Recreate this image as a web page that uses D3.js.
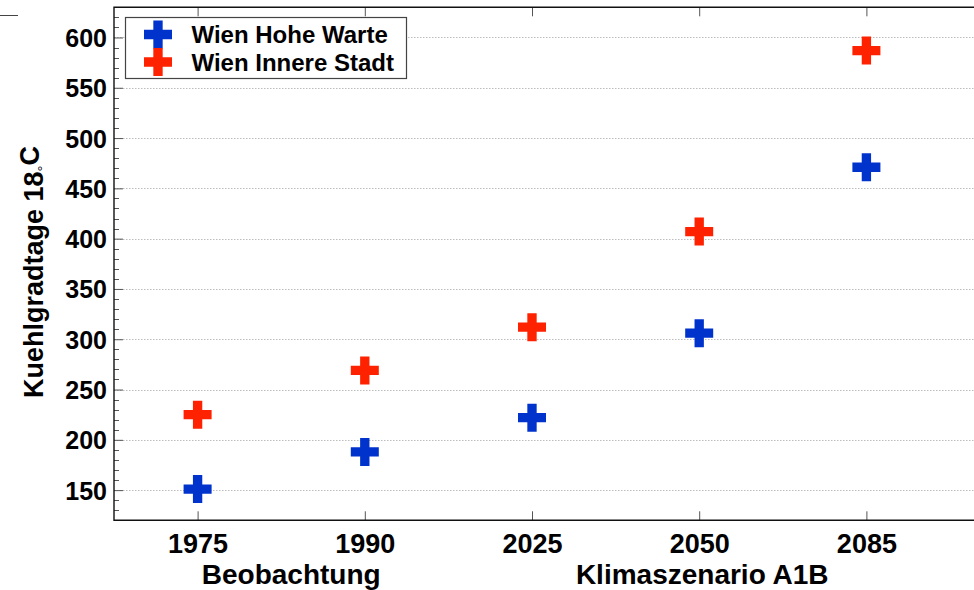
<!DOCTYPE html>
<html>
<head>
<meta charset="utf-8">
<script src="https://cdn.jsdelivr.net/npm/d3@7"></script>
<style>
  html, body { margin: 0; padding: 0; background: #fff; }
  svg { display: block; }
  text { font-family: "Liberation Sans", Arial, Helvetica, sans-serif; font-weight: bold; fill: #000; }
</style>
</head>
<body>
<svg id="chart" width="974" height="590"></svg>
<script>
// ---- data ----
const categories = ["1975", "1990", "2025", "2050", "2085"];
const seriesNames = ["Wien Hohe Warte", "Wien Innere Stadt"];
const hoheWarte = [151, 188, 222, 306, 471];
const innereStadt = [225, 269, 312, 407, 587];
const yTicks = [150, 200, 250, 300, 350, 400, 450, 500, 550, 600];
const groupLabels = ["Beobachtung", "Klimaszenario A1B"];
const groupMembers = [["1975", "1990"], ["2025", "2050", "2085"]];
const yLabel = "Kuehlgradtage 18";
const colors = ["#0033cc", "#ff2200"];

// ---- layout ----
const plotLeft = 114, plotTop = 7.3, plotBottom = 520.3;
const step = 167.2;
const svg = d3.select("#chart");

const idx = d3.scaleOrdinal().domain(categories).range(d3.range(1, categories.length + 1));
const x = d3.scaleLinear().domain([0.5, 6]).range([plotLeft, plotLeft + 5.5 * step]);
const y = d3.scaleLinear().domain([120, 630]).range([plotBottom, plotTop]);
const plotRight = x(6);

// artifact line top-left
svg.append("line").attr("x1", 0).attr("x2", 18).attr("y1", 15.5).attr("y2", 15.5)
  .attr("stroke", "#444").attr("stroke-width", 1);

// grid lines
svg.append("g").selectAll("line").data(yTicks).join("line")
  .attr("x1", plotLeft).attr("x2", plotRight)
  .attr("y1", d => Math.round(y(d)) + 0.5).attr("y2", d => Math.round(y(d)) + 0.5)
  .attr("stroke", "#bdbdbd").attr("stroke-width", 1).attr("stroke-dasharray", "1.5,1.5");

// minor y ticks
const minor = d3.range(130, 631, 10).filter(v => v % 50 !== 0);
svg.append("g").selectAll("line").data(minor).join("line")
  .attr("x1", plotLeft).attr("x2", plotLeft + 5)
  .attr("y1", d => Math.round(y(d)) + 0.5).attr("y2", d => Math.round(y(d)) + 0.5)
  .attr("stroke", "#555").attr("stroke-width", 1);

// y axis
const yAxis = svg.append("g").attr("transform", `translate(${plotLeft},0)`)
  .call(d3.axisRight(y).tickValues(yTicks).tickSize(9).tickFormat(d3.format("d")));
yAxis.select(".domain").remove();
yAxis.selectAll(".tick line").attr("stroke", "#555").attr("stroke-width", 1);
yAxis.selectAll(".tick text")
  .attr("x", -7).attr("text-anchor", "end").attr("dy", "0.36em")
  .style("font-size", "25px").style("font-weight", "bold")
  .style("font-family", "'Liberation Sans', Arial, sans-serif").attr("fill", "#000");

// x axis bottom
const xAxis = svg.append("g").attr("transform", `translate(0,${plotBottom})`)
  .call(d3.axisTop(x).tickValues(categories.map(c => idx(c))).tickSize(9)
    .tickFormat((d, i) => categories[i]));
xAxis.select(".domain").remove();
xAxis.selectAll(".tick line").attr("stroke", "#555").attr("stroke-width", 1);
xAxis.selectAll(".tick text")
  .attr("y", 33).attr("dy", 0)
  .style("font-size", "27px").style("font-weight", "bold")
  .style("font-family", "'Liberation Sans', Arial, sans-serif").attr("fill", "#000");

// x ticks top
const xTop = svg.append("g").attr("transform", `translate(0,${plotTop})`)
  .call(d3.axisBottom(x).tickValues(categories.map(c => idx(c))).tickSize(9).tickFormat(""));
xTop.select(".domain").remove();
xTop.selectAll(".tick line").attr("stroke", "#555").attr("stroke-width", 1);

// frame
svg.append("path")
  .attr("d", `M${plotRight},${plotTop}H${plotLeft}V${plotBottom}H${plotRight}`)
  .attr("fill", "none").attr("stroke", "#111").attr("stroke-width", 1.4);

// group labels
const groupOffsets = [10, 3];
svg.append("g").selectAll("text").data(groupLabels).join("text")
  .attr("x", (d, i) => x(d3.mean(groupMembers[i], c => idx(c))) + groupOffsets[i])
  .attr("y", 584)
  .attr("text-anchor", "middle")
  .style("font-size", "28px")
  .text(d => d);

// y label
const yl = svg.append("text")
  .attr("transform", `translate(43,272) rotate(-90)`)
  .attr("text-anchor", "middle")
  .style("font-size", "27px");
yl.append("tspan").text(yLabel);
yl.append("tspan").attr("dy", "0.3em").style("font-size", "15px").style("font-weight", "normal").text("\u00B0");
yl.append("tspan").attr("dy", "-0.3em").text("C");

// markers
const cross = d3.symbol().type(d3.symbolCross).size(436);
const series = [hoheWarte, innereStadt];
series.forEach((vals, s) => {
  svg.append("g").selectAll("path").data(vals).join("path")
    .attr("d", cross)
    .attr("transform", (d, i) => `translate(${x(idx(categories[i]))},${y(d)})`)
    .attr("fill", colors[s]);
});

// legend
const lg = svg.append("g");
lg.append("rect").attr("x", 125.5).attr("y", 17.5).attr("width", 281).attr("height", 61)
  .attr("fill", "#fff").attr("stroke", "#444").attr("stroke-width", 1.2);
seriesNames.forEach((n, i) => {
  lg.append("path").attr("d", cross)
    .attr("transform", `translate(158,${34.5 + i * 27.5})`)
    .attr("fill", colors[i]);
  lg.append("text").attr("x", 191.5).attr("y", 43.3 + i * 27.5)
    .style("font-size", "24px").text(n);
});
</script>
</body>
</html>
